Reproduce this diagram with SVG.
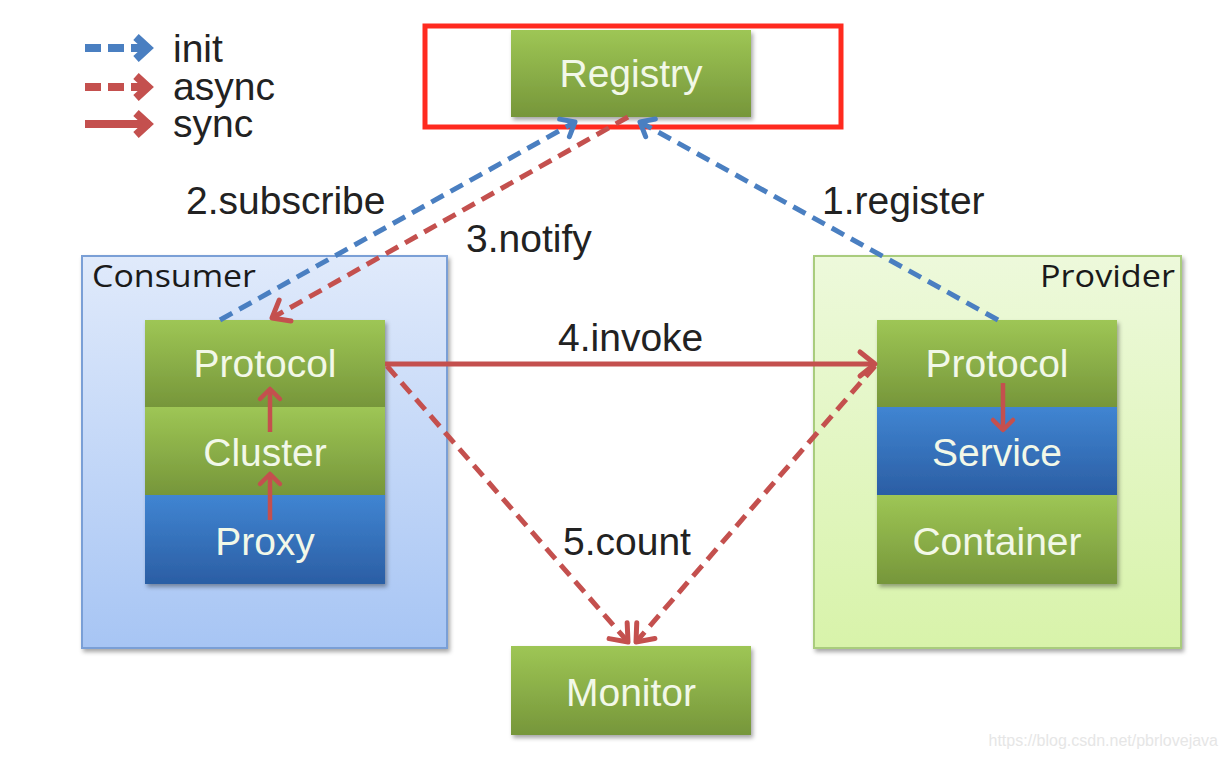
<svg xmlns="http://www.w3.org/2000/svg" width="1228" height="758" viewBox="0 0 1228 758">
<defs>
<linearGradient id="gGreen" x1="0" y1="0" x2="0" y2="1"><stop offset="0" stop-color="#9ec655"/><stop offset="1" stop-color="#76963a"/></linearGradient>
<linearGradient id="gBlue" x1="0" y1="0" x2="0" y2="1"><stop offset="0" stop-color="#4085d2"/><stop offset="1" stop-color="#2b5ea4"/></linearGradient>
<linearGradient id="gCons" x1="0" y1="0" x2="0" y2="1"><stop offset="0" stop-color="#e0eafb"/><stop offset="1" stop-color="#a7c5f4"/></linearGradient>
<linearGradient id="gProv" x1="0" y1="0" x2="0" y2="1"><stop offset="0" stop-color="#edf9db"/><stop offset="1" stop-color="#d8f3aa"/></linearGradient>
<filter id="sh" x="-10%" y="-10%" width="125%" height="125%"><feDropShadow dx="2" dy="3" stdDeviation="2" flood-color="#000" flood-opacity="0.35"/></filter>
<marker id="mRed" markerUnits="userSpaceOnUse" viewBox="-18 -16 22 32" refX="0" refY="0" markerWidth="22" markerHeight="32" orient="auto" overflow="visible">
<path d="M-15,-12 L0,0 L-15,12" fill="none" stroke="#c4504e" stroke-width="5" stroke-linecap="round" stroke-linejoin="round"/>
</marker>
<marker id="mBlue" markerUnits="userSpaceOnUse" viewBox="-18 -16 22 32" refX="0" refY="0" markerWidth="22" markerHeight="32" orient="auto" overflow="visible">
<path d="M-12,-10 L0,0 L-12,10" fill="none" stroke="#4a7fc1" stroke-width="5" stroke-linecap="round" stroke-linejoin="round"/>
</marker>
<marker id="mRedS" markerUnits="userSpaceOnUse" viewBox="-18 -16 22 32" refX="0" refY="0" markerWidth="22" markerHeight="32" orient="auto" overflow="visible">
<path d="M-10,-10 L0,0 L-10,10" fill="none" stroke="#c4504e" stroke-width="4.5" stroke-linecap="round" stroke-linejoin="round"/>
</marker>
<marker id="lBlue" markerUnits="userSpaceOnUse" viewBox="-20 -16 24 32" refX="0" refY="0" markerWidth="24" markerHeight="32" orient="auto" overflow="visible">
<path d="M-14,-11 L-2,0 L-14,11" fill="none" stroke="#4a7fc1" stroke-width="8" stroke-linejoin="miter"/>
</marker>
<marker id="lRed" markerUnits="userSpaceOnUse" viewBox="-20 -16 24 32" refX="0" refY="0" markerWidth="24" markerHeight="32" orient="auto" overflow="visible">
<path d="M-14,-11 L-2,0 L-14,11" fill="none" stroke="#c4504e" stroke-width="8" stroke-linejoin="miter"/>
</marker>
</defs>
<style>
.lbl{font-family:"Liberation Sans",Arial,sans-serif;font-size:39px;fill:#222}
.in{font-family:"Liberation Sans",Arial,sans-serif;font-size:39px;fill:#f2f8e8;text-anchor:middle}
.grp{font-family:"Open Sans","Liberation Sans",sans-serif;font-size:31px;fill:#1a1a1a}
.green{fill:url(#gGreen)}
.blue{fill:url(#gBlue)}
.init{fill:none;stroke:#4a7fc1;stroke-width:5;stroke-dasharray:14 8}
.async{fill:none;stroke:#c4504e;stroke-width:5;stroke-dasharray:14 8}
.sync{fill:none;stroke:#c4504e;stroke-width:5}
</style>
<rect width="1228" height="758" fill="#fff"/>

<g id="legend">
<line x1="85" y1="48" x2="150" y2="48" stroke="#4a7fc1" stroke-width="8" stroke-dasharray="16 7" marker-end="url(#lBlue)"/>
<line x1="85" y1="87" x2="150" y2="87" stroke="#c4504e" stroke-width="8" stroke-dasharray="16 7" marker-end="url(#lRed)"/>
<line x1="85" y1="124" x2="150" y2="124" stroke="#c4504e" stroke-width="8" marker-end="url(#lRed)"/>
<text class="lbl" x="173" y="62">init</text>
<text class="lbl" x="173" y="100">async</text>
<text class="lbl" x="173" y="137">sync</text>
</g>

<g id="consumer">
<rect x="82" y="256" width="365" height="392" fill="url(#gCons)" stroke="#7a9fd6" stroke-width="2" filter="url(#sh)"/>
<text class="grp" x="92" y="287" textLength="164" lengthAdjust="spacingAndGlyphs">Consumer</text>
<g filter="url(#sh)">
<rect class="green" x="145" y="320" width="240" height="87"/>
<rect class="green" x="145" y="407" width="240" height="88"/>
<rect class="blue" x="145" y="495" width="240" height="89"/>
</g>
<text class="in" x="265" y="377">Protocol</text>
<text class="in" x="265" y="466">Cluster</text>
<text class="in" x="265" y="555">Proxy</text>
</g>

<g id="provider">
<rect x="814" y="256" width="367" height="392" fill="url(#gProv)" stroke="#a9cc7d" stroke-width="2" filter="url(#sh)"/>
<text class="grp" x="1175" y="287" text-anchor="end" textLength="135" lengthAdjust="spacingAndGlyphs">Provider</text>
<g filter="url(#sh)">
<rect class="green" x="877" y="320" width="240" height="87"/>
<rect class="blue" x="877" y="407" width="240" height="88"/>
<rect class="green" x="877" y="495" width="240" height="89"/>
</g>
<text class="in" x="997" y="377">Protocol</text>
<text class="in" x="997" y="466">Service</text>
<text class="in" x="997" y="555">Container</text>
</g>

<g id="registry">
<rect class="green" x="511" y="30" width="240" height="87" filter="url(#sh)"/>
<text class="in" x="631" y="87">Registry</text>
<rect x="425" y="26" width="416" height="101" fill="none" stroke="#ff2a1f" stroke-width="5"/>
</g>

<g id="monitor">
<rect class="green" x="511" y="646" width="240" height="89" filter="url(#sh)"/>
<text class="in" x="631" y="706">Monitor</text>
</g>

<g id="connectors">
<line class="init" x1="220" y1="320" x2="575" y2="122" marker-end="url(#mBlue)"/>
<line class="async" x1="628" y1="117" x2="272" y2="318" marker-end="url(#mRed)"/>
<line class="init" x1="998" y1="320" x2="640" y2="122" marker-end="url(#mBlue)"/>
<line class="sync" x1="385" y1="364" x2="875" y2="364" marker-end="url(#mRed)"/>
<line class="async" x1="387" y1="366" x2="628" y2="642" marker-end="url(#mRed)"/>
<line class="async" x1="875" y1="366" x2="636" y2="642" marker-end="url(#mRed)"/>
<line x1="270" y1="432" x2="270" y2="389" stroke="#c4504e" stroke-width="4.5" marker-end="url(#mRedS)"/>
<line x1="270" y1="520" x2="270" y2="474" stroke="#c4504e" stroke-width="4.5" marker-end="url(#mRedS)"/>
<line x1="1003" y1="383" x2="1003" y2="430" stroke="#c4504e" stroke-width="4.5" marker-end="url(#mRedS)"/>
</g>

<g id="labels">
<text class="lbl" x="186" y="214">2.subscribe</text>
<text class="lbl" x="466" y="252">3.notify</text>
<text class="lbl" x="822" y="214">1.register</text>
<text class="lbl" x="558" y="351">4.invoke</text>
<text class="lbl" x="563" y="555">5.count</text>
</g>

<text x="1218" y="746" text-anchor="end" font-family="'Liberation Sans',Arial,sans-serif" font-size="16" fill="#e6e6e6">https://blog.csdn.net/pbrlovejava</text>
</svg>
